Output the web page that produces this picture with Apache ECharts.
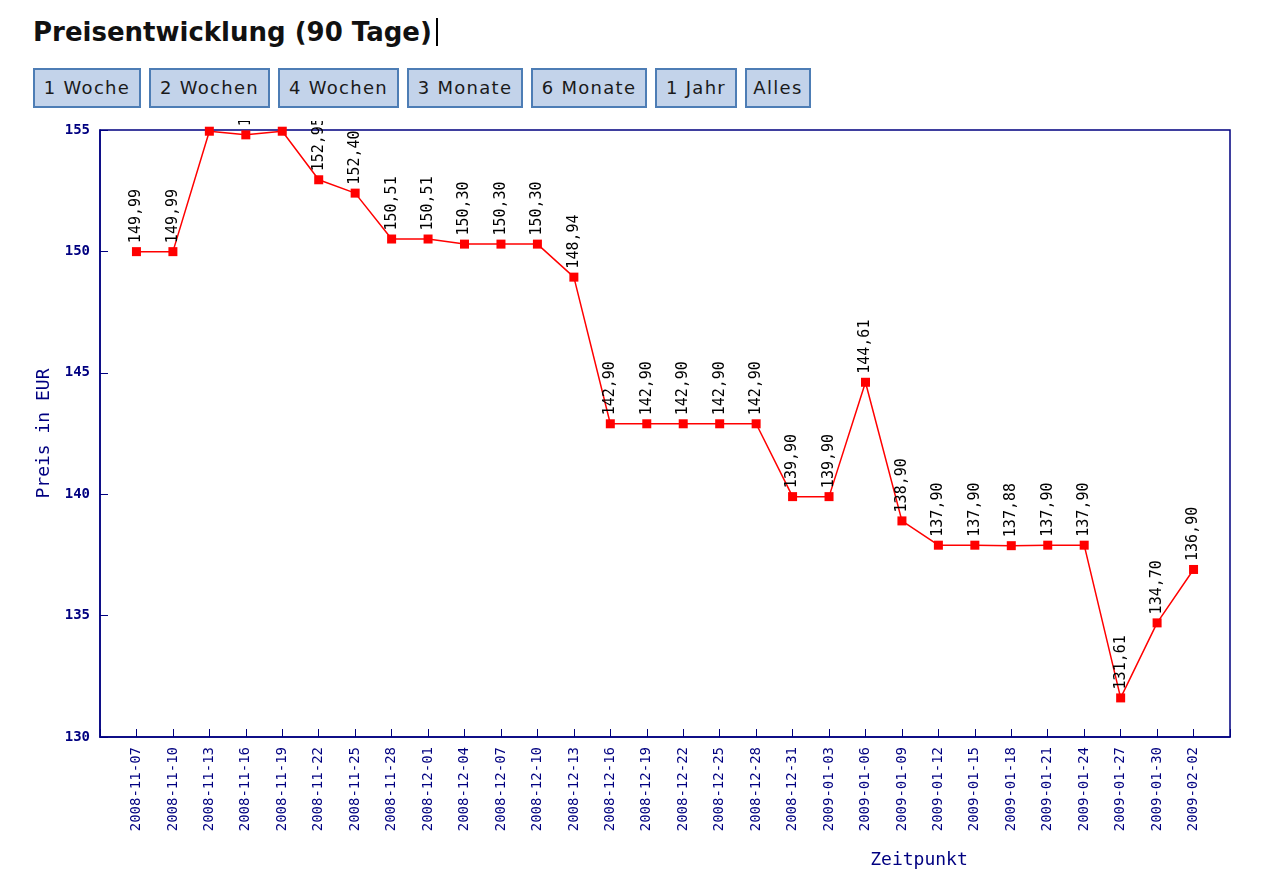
<!DOCTYPE html>
<html>
<head>
    <meta charset="utf-8">
    <script src="https://cdn.jsdelivr.net/npm/echarts@6/dist/echarts.min.js"></script>
    <style>
        body { margin: 0; background: #fff; width: 1280px; height: 892px; position: relative; overflow: hidden; }
        #title { position: absolute; left: 33px; top: 17px; font: bold 26px/30px "DejaVu Sans", sans-serif; color: #111; white-space: nowrap; }
        #title span { display: inline-block; width: 0; height: 28px; border-left: 2px solid #000; margin-left: 4px; vertical-align: -5px; }
        .btn { position: absolute; top: 68px; height: 40px; box-sizing: border-box; border: 2px solid #4d7db5; background: #c3d3ea;
               font: 18px/36px "DejaVu Sans", sans-serif; letter-spacing: 1.3px; color: #1a1a1a; text-align: center; white-space: nowrap; }
        #main { position: absolute; left: 0; top: 121px; width: 1280px; height: 771px; }
    </style>
</head>
<body>
    <div id="title">Preisentwicklung (90 Tage)<span></span></div>
    <div class="btn" style="left:33px;width:108px;">1 Woche</div>
    <div class="btn" style="left:149px;width:121px;">2 Wochen</div>
    <div class="btn" style="left:278px;width:121px;">4 Wochen</div>
    <div class="btn" style="left:407px;width:116px;">3 Monate</div>
    <div class="btn" style="left:531px;width:116px;">6 Monate</div>
    <div class="btn" style="left:655px;width:82px;">1 Jahr</div>
    <div class="btn" style="left:745px;width:66px;">Alles</div>

    <div id="main"></div>
    <script type="text/javascript">
        var myChart = echarts.init(document.getElementById('main'));

        // Zeitpunkte (x-Achse)
        var dates = [
            '2008-11-07', '2008-11-10', '2008-11-13', '2008-11-16', '2008-11-19', '2008-11-22',
            '2008-11-25', '2008-11-28', '2008-12-01', '2008-12-04', '2008-12-07', '2008-12-10',
            '2008-12-13', '2008-12-16', '2008-12-19', '2008-12-22', '2008-12-25', '2008-12-28',
            '2008-12-31', '2009-01-03', '2009-01-06', '2009-01-09', '2009-01-12', '2009-01-15',
            '2009-01-18', '2009-01-21', '2009-01-24', '2009-01-27', '2009-01-30', '2009-02-02'
        ];
        // Preis in EUR
        var prices = [
            149.99, 149.99, 154.95, 154.80, 154.95, 152.95,
            152.40, 150.51, 150.51, 150.30, 150.30, 150.30,
            148.94, 142.90, 142.90, 142.90, 142.90, 142.90,
            139.90, 139.90, 144.61, 138.90, 137.90, 137.90,
            137.88, 137.90, 137.90, 131.61, 134.70, 136.90
        ];
        var yMin = 130, yMax = 155, yStep = 5;

        // one empty slot at each end, the plot leaves a gap of one step there
        var categories = [''].concat(dates, ['']);
        var seriesData = [null].concat(prices, [null]);

        var navy = '#000080';
        var mono = '"DejaVu Sans Mono", monospace';

        var option = {
            animation: false,
            grid: {
                left: 100, right: 50, top: 9, bottom: 155,
                show: true, borderColor: navy, borderWidth: 1.5
            },
            xAxis: {
                type: 'category',
                data: categories,
                boundaryGap: false,
                name: 'Zeitpunkt',
                nameLocation: 'middle',
                nameGap: 114,
                nameTextStyle: { color: navy, fontFamily: mono, fontSize: 18, padding: [0, 0, 0, 508] },
                axisLine: { lineStyle: { color: navy, width: 1.5 } },
                axisTick: { inside: true, length: 8, interval: 0, lineStyle: { color: navy } },
                axisLabel: { rotate: 90, interval: 0, margin: 10, color: navy, fontFamily: mono, fontSize: 14 },
                splitLine: { show: false }
            },
            yAxis: {
                type: 'value',
                min: yMin, max: yMax, interval: yStep,
                name: 'Preis in EUR',
                nameLocation: 'middle',
                nameRotate: 90,
                nameGap: 42,
                nameTextStyle: { color: navy, fontFamily: mono, fontSize: 18 },
                axisLine: { show: true, lineStyle: { color: navy, width: 1.5 } },
                axisTick: { show: true, inside: true, length: 8, lineStyle: { color: navy } },
                axisLabel: { margin: 10, color: navy, fontFamily: mono, fontSize: 14, fontWeight: 'bold' },
                splitLine: { show: false }
            },
            series: [
                {
                    type: 'line',
                    data: seriesData,
                    clip: false,
                    symbol: 'rect',
                    symbolSize: 9,
                    itemStyle: { color: '#ff0000' },
                    lineStyle: { color: '#ff0000', width: 1.5 },
                    label: {
                        show: true,
                        position: 'top',
                        distance: 4,
                        rotate: 90,
                        align: 'left',
                        verticalAlign: 'middle',
                        color: '#000',
                        fontFamily: mono,
                        fontSize: 15,
                        formatter: function (p) {
                            return p.value == null ? '' : p.value.toFixed(2).replace('.', ',');
                        }
                    }
                }
            ]
        };

        myChart.setOption(option);
    </script>
</body>
</html>
